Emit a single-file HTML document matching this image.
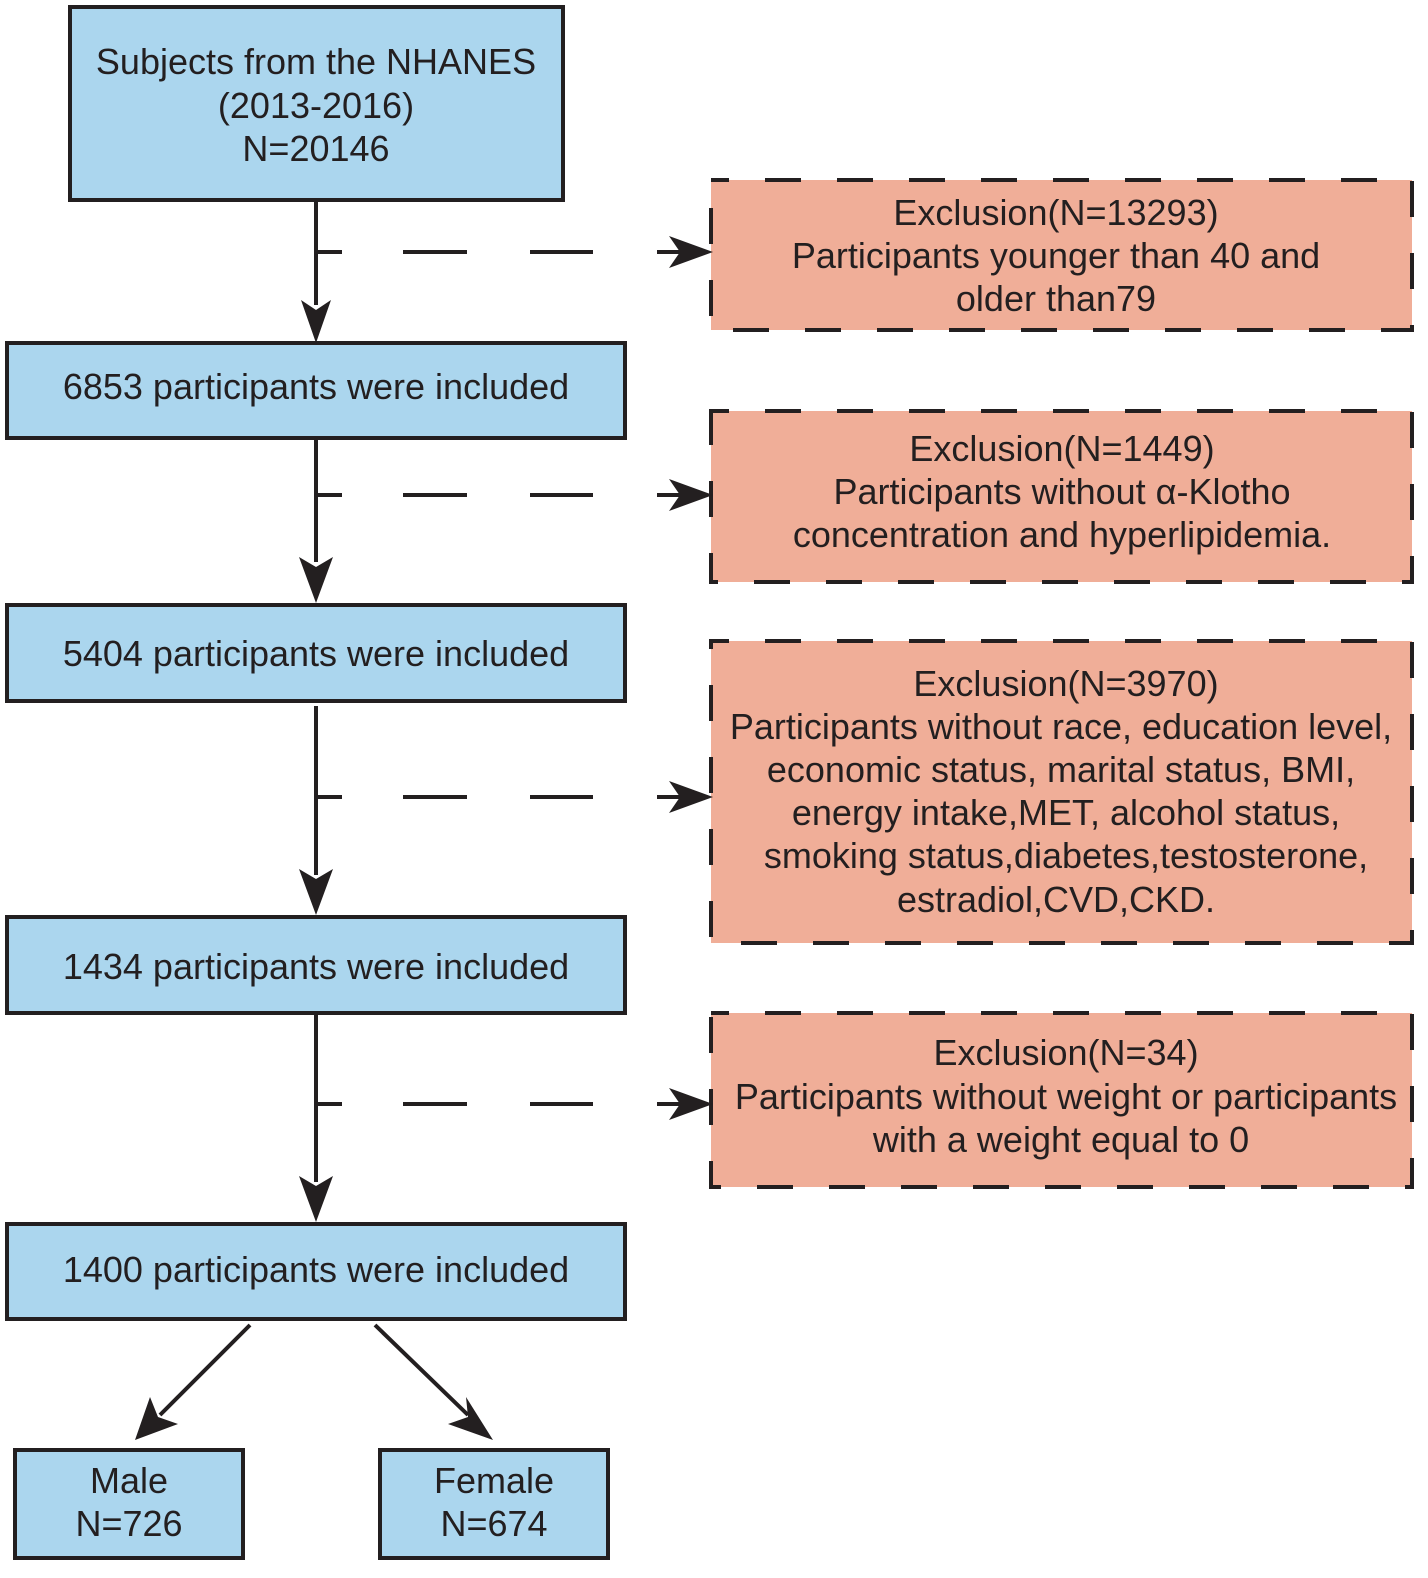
<!DOCTYPE html>
<html><head><meta charset="utf-8"><style>body{margin:0;background:#fff}svg{display:block}</style></head>
<body>
<svg width="1428" height="1578" viewBox="0 0 1428 1578" xmlns="http://www.w3.org/2000/svg" font-family="Liberation Sans, sans-serif" font-size="36" fill="#231f20">
<g stroke="#231f20" stroke-width="4">
<rect x="70" y="7" width="493" height="193" fill="#abd6ee"/>
<rect x="7" y="343" width="618" height="95" fill="#abd6ee"/>
<rect x="7" y="605" width="618" height="96" fill="#abd6ee"/>
<rect x="7" y="917" width="618" height="96" fill="#abd6ee"/>
<rect x="7" y="1224" width="618" height="95" fill="#abd6ee"/>
<rect x="15" y="1450" width="228" height="108" fill="#abd6ee"/>
<rect x="380" y="1450" width="228" height="108" fill="#abd6ee"/>
</g>
<g fill="#f0ae98" stroke="#231f20" stroke-width="4" stroke-dasharray="36 36" stroke-dashoffset="18">
<rect x="711" y="180" width="701" height="150"/>
<rect x="711" y="411" width="701" height="171"/>
<rect x="711" y="641" width="701" height="302"/>
<rect x="711" y="1013" width="701" height="174"/>
</g>
<g stroke="#231f20" stroke-width="4" fill="none">
<line x1="316" y1="200" x2="316" y2="305"/>
<line x1="316" y1="438" x2="316" y2="562"/>
<line x1="316" y1="706" x2="316" y2="875"/>
<line x1="316" y1="1013" x2="316" y2="1182"/>
<line x1="250" y1="1325" x2="160" y2="1415"/>
<line x1="375" y1="1325" x2="468" y2="1415"/>
</g>
<g fill="#231f20">
<path d="M301,300 L316,343 L331,300 L316,310Z"/>
<path d="M299,557 L316,603 L333,557 L316,567Z"/>
<path d="M299,869 L316,915 L333,869 L316,879Z"/>
<path d="M299,1176 L316,1222 L333,1176 L316,1186Z"/>
<path d="M150,1397 L135,1440 L178,1424 L158,1417Z"/>
<path d="M466,1397 L493,1440 L448,1424 L468,1417Z"/>
</g>
<g stroke="#231f20" stroke-width="4">
<path d="M316 252H342M403 252H467M530 252H593M657 252H690"/>
<path d="M316 495H342M403 495H467M530 495H593M657 495H690"/>
<path d="M316 797H342M403 797H467M530 797H593M657 797H690"/>
<path d="M316 1104H342M403 1104H467M530 1104H593M657 1104H690"/>
</g>
<g fill="#231f20">
<path d="M669,236 L713,252 L669,268 L680,252Z"/>
<path d="M669,479 L713,495 L669,511 L680,495Z"/>
<path d="M669,781 L713,797 L669,813 L680,797Z"/>
<path d="M669,1088 L713,1104 L669,1120 L680,1104Z"/>
</g>
<g text-anchor="middle">
<text x="316" y="74">Subjects from the NHANES</text>
<text x="316" y="118">(2013-2016)</text>
<text x="316" y="161">N=20146</text>
<text x="316" y="399">6853 participants were included</text>
<text x="316" y="666">5404 participants were included</text>
<text x="316" y="979">1434 participants were included</text>
<text x="316" y="1282">1400 participants were included</text>
<text x="129" y="1493">Male</text>
<text x="129" y="1536">N=726</text>
<text x="494" y="1493">Female</text>
<text x="494" y="1536">N=674</text>
<text x="1056" y="225">Exclusion(N=13293)</text>
<text x="1056" y="268">Participants younger than 40 and</text>
<text x="1056" y="311">older than79</text>
<text x="1062" y="461">Exclusion(N=1449)</text>
<text x="1062" y="504">Participants without α-Klotho</text>
<text x="1062" y="547">concentration and hyperlipidemia.</text>
<text x="1066" y="696">Exclusion(N=3970)</text>
<text x="1061" y="739">Participants without race, education level,</text>
<text x="1061" y="782">economic status, marital status, BMI,</text>
<text x="1066" y="825">energy intake,MET, alcohol status,</text>
<text x="1066" y="868">smoking status,diabetes,testosterone,</text>
<text x="1056" y="912">estradiol,CVD,CKD.</text>
<text x="1066" y="1065">Exclusion(N=34)</text>
<text x="1066" y="1109">Participants without weight or participants</text>
<text x="1061" y="1152">with a weight equal to 0</text>
</g>
</svg>
</body></html>
